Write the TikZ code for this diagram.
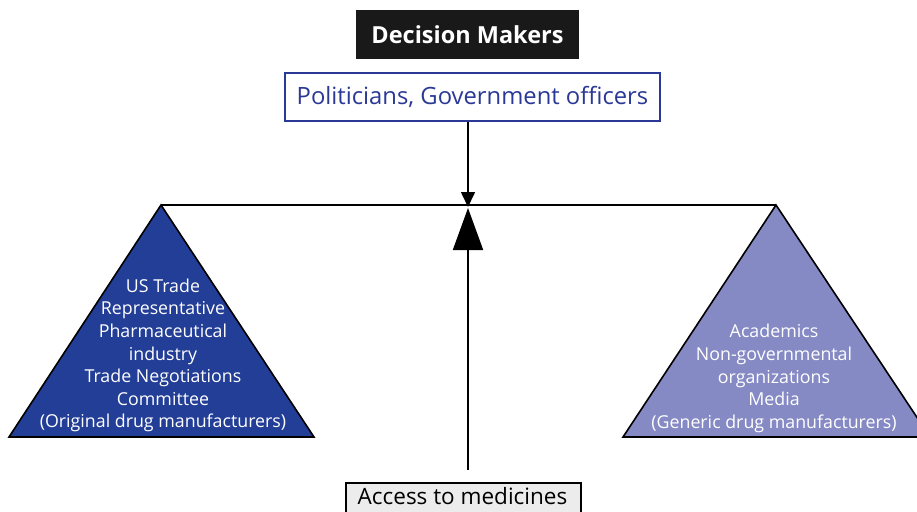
\documentclass[tikz,border=0pt]{standalone}
\usepackage{fontspec}
\setmainfont{Open Sans}
\usetikzlibrary{arrows.meta}
\definecolor{darkbl}{RGB}{35,62,150}
\definecolor{lightbl}{RGB}{133,137,196}
\definecolor{polbl}{RGB}{43,57,150}
\definecolor{accgray}{RGB}{236,236,236}
\tikzset{
  tri/.style={draw=black, line width=1.6pt, line join=miter},
  lbl/.style={align=center, text=white, font=\fontsize{17.8}{22.6}\selectfont, inner sep=0pt},
}
\begin{document}
\begin{tikzpicture}[x=1pt,y=-1pt]
\useasboundingbox (0,0) rectangle (917,511);
% triangles
\path[tri, fill=darkbl] (161,205) -- (314,437) -- (9,437) -- cycle;
\path[tri, fill=lightbl] (776,205) -- (930,437) -- (623,437) -- cycle;
% beam
\coordinate (bl) at (161,205);
\coordinate (br) at (776,205);
\draw[line width=1.2pt] (bl) -- (br);
% header
\node[fill=black!90, text=white, font=\fontsize{23.5}{26}\bfseries\selectfont, minimum width=223pt, minimum height=49pt, inner sep=0pt] (dm) at (467.5,34.5) {Decision Makers};
\node[draw=polbl, line width=1.6pt, fill=white, text=polbl, font=\fontsize{23.8}{28}\selectfont, minimum width=375pt, minimum height=48pt, inner sep=0pt] (pol) at (472.5,97) {Politicians, Government officers};
% access box
\node[draw=black, line width=1.6pt, fill=accgray, minimum width=235pt, minimum height=46pt, inner sep=0pt, anchor=north west] (acc) at (345,482) {};
\node[font=\fontsize{22.5}{26}\selectfont, inner sep=0pt] (acct) at (462.5,496.5) {Access to medicines};
% arrows
\coordinate (pivot) at (468,207);
\draw[line width=1.6pt, -{Triangle[length=15pt,width=14pt]}] (pol.south -| pivot) -- (pivot);
\coordinate (shaftbot) at (468,470);
\draw[line width=1.8pt, -{Triangle[length=42pt,width=30pt]}] (shaftbot) -- (468,208);
% labels
\node[lbl] (lt) at (163,355.5) {US Trade\\Representative\\Pharmaceutical\\industry\\Trade Negotiations\\Committee\\(Original drug manufacturers)};
\node[lbl] (rt) at (774,378.5) {Academics\\Non-governmental\\organizations\\Media\\(Generic drug manufacturers)};
\end{tikzpicture}
\end{document}
